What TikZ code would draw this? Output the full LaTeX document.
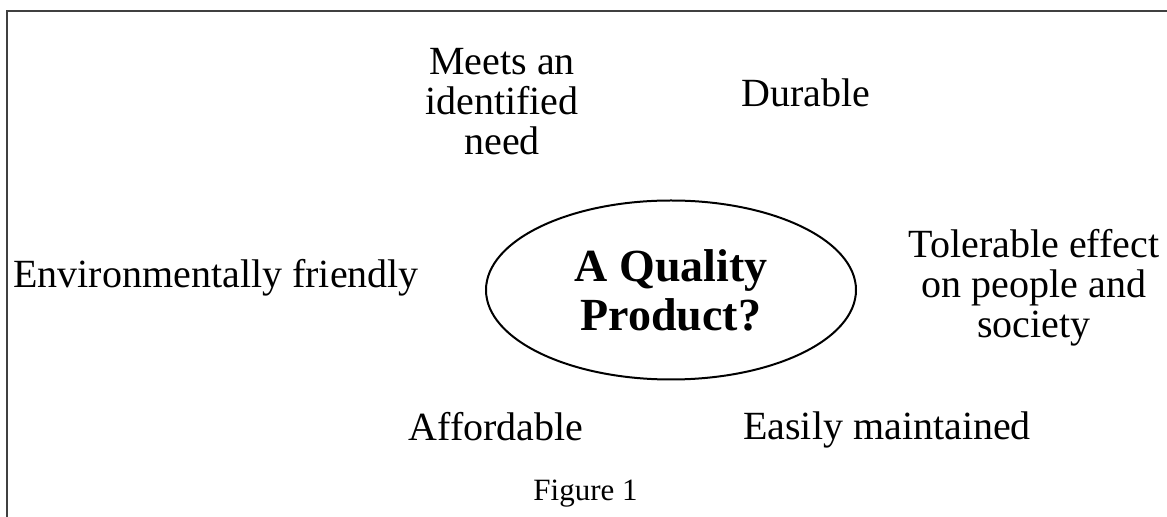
\documentclass[tikz,border=0pt]{standalone}
\usepackage{fontspec}
\setmainfont{Liberation Serif}
\usetikzlibrary{shapes}

\begin{document}
\begin{tikzpicture}[x=0.5pt,y=-0.5pt]
  \tikzstyle{every node}=[inner sep=0pt, align=center, font=\fontsize{20}{20.2}\selectfont]
  \tikzstyle{quality}=[draw, ellipse, line width=1pt, minimum width=185pt, minimum height=89.5pt,
    font=\fontsize{23}{24.5}\selectfont\bfseries]
  \useasboundingbox (0,0) rectangle (1167,517);
  \draw[line width=0.75pt, black!75] (7,517) -- (7,11) -- (1167,11);
  \node[quality] (product) at (671,290) {A Quality\\Product?};
  % multi-line nodes: base is the last line
  \node[anchor=base] (need) at (502,155) {Meets an\\identified\\need};
  \node[anchor=base] (durable) at (806,107) {Durable};
  \node[anchor=base west] (environment) at (13,288) {Environmentally friendly};
  \node[anchor=base] (society) at (1034,338) {Tolerable effect\\on people and\\society};
  \node[anchor=base] (affordable) at (496,441) {Affordable};
  \node[anchor=base] (maintained) at (887,440) {Easily maintained};
  \node[anchor=base, font=\fontsize{15.5}{17}\selectfont] (caption) at (585.5,501) {Figure 1};
\end{tikzpicture}
\end{document}
